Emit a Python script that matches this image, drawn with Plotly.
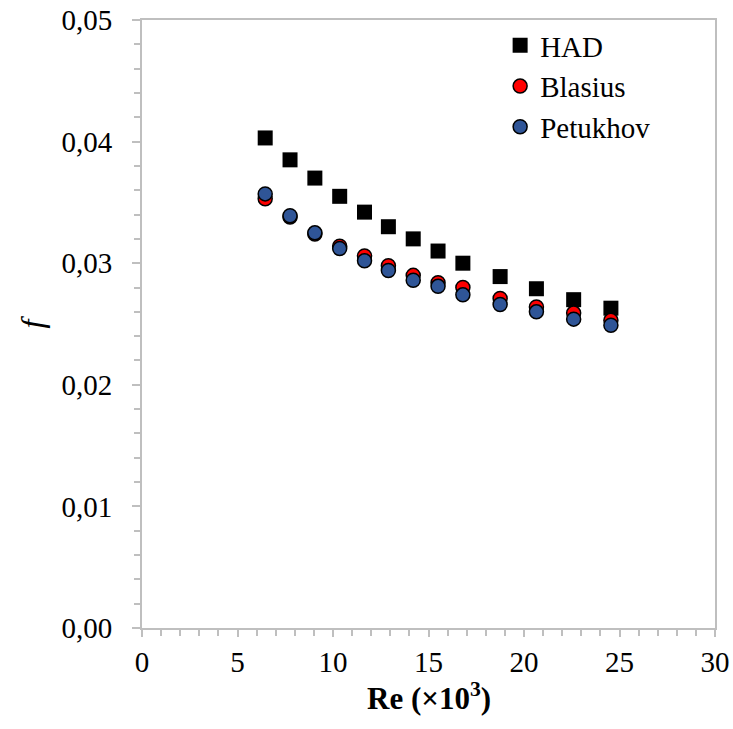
import plotly.graph_objects as go

# Reynolds number (x10^3) and friction factor for each correlation
re_k = [6.45, 7.75, 9.05, 10.35, 11.65, 12.9, 14.2, 15.5, 16.8, 18.75, 20.65, 22.6, 24.55]
f_had = [0.0403, 0.0385, 0.0370, 0.0355, 0.0342, 0.0330, 0.0320, 0.0310, 0.0300, 0.0289, 0.0279, 0.0270, 0.0263]
f_blasius = [0.0353, 0.0338, 0.0324, 0.0314, 0.0306, 0.0298, 0.0290, 0.0284, 0.0280, 0.0271, 0.0264, 0.0259, 0.0253]
f_petukhov = [0.0357, 0.0339, 0.0325, 0.0312, 0.0302, 0.0294, 0.0286, 0.0281, 0.0274, 0.0266, 0.0260, 0.0254, 0.0249]

FONT = "Liberation Serif, Times New Roman, serif"
AXIS_GREY = "#BFBFBF"

fig = go.Figure()
fig.add_trace(go.Scatter(
    x=re_k, y=f_had, mode="markers", name="HAD",
    marker=dict(symbol="square", size=15, color="black", line=dict(width=0)),
))
fig.add_trace(go.Scatter(
    x=re_k, y=f_blasius, mode="markers", name="Blasius",
    marker=dict(symbol="circle", size=14, color="#FF0000", line=dict(width=1.5, color="black")),
))
fig.add_trace(go.Scatter(
    x=re_k, y=f_petukhov, mode="markers", name="Petukhov",
    marker=dict(symbol="circle", size=14, color="#2F5597", line=dict(width=1.5, color="black")),
))

fig.update_layout(
    width=733, height=729,
    margin=dict(l=142, r=18, t=20, b=101, autoexpand=False),
    paper_bgcolor="white", plot_bgcolor="white",
    separators=", ",
    font=dict(family=FONT, size=29, color="black"),
    showlegend=True,
    legend=dict(
        x=0.625, y=1.0, xanchor="left", yanchor="top",
        bgcolor="rgba(0,0,0,0)",
        font=dict(family=FONT, size=29, color="black"),
        itemwidth=30,
    ),
    xaxis=dict(
        range=[0, 30], tick0=0, dtick=5, automargin=False,
        showgrid=False, zeroline=False,
        showline=True, linecolor=AXIS_GREY, linewidth=2, mirror=True,
        ticks="outside", ticklen=7, tickcolor=AXIS_GREY, tickwidth=1.5,
        minor=dict(dtick=1, ticks="outside", ticklen=6, tickcolor=AXIS_GREY, tickwidth=1.5),
        tickfont=dict(family=FONT, size=29),
    ),
    yaxis=dict(
        range=[0, 0.05], tick0=0, dtick=0.01, tickformat=".2f", automargin=False,
        showgrid=False, zeroline=False,
        showline=True, linecolor=AXIS_GREY, linewidth=2, mirror=True,
        ticks="outside", ticklen=8, tickcolor=AXIS_GREY, tickwidth=1.5,
        minor=dict(dtick=0.002, ticks="outside", ticklen=6, tickcolor=AXIS_GREY, tickwidth=1.5),
        tickfont=dict(family=FONT, size=29),
        ticklabelstandoff=14,
        title=dict(text="<i>f</i>", font=dict(family=FONT, size=32), standoff=8),
    ),
    annotations=[dict(
        text="<b>Re (×10<sup>3</sup>)</b>", xref="paper", yref="paper",
        x=0.5, y=-0.112, xanchor="center", yanchor="middle", showarrow=False,
        font=dict(family=FONT, size=31, color="black"),
    )],
)

fig.write_html("out.html")
